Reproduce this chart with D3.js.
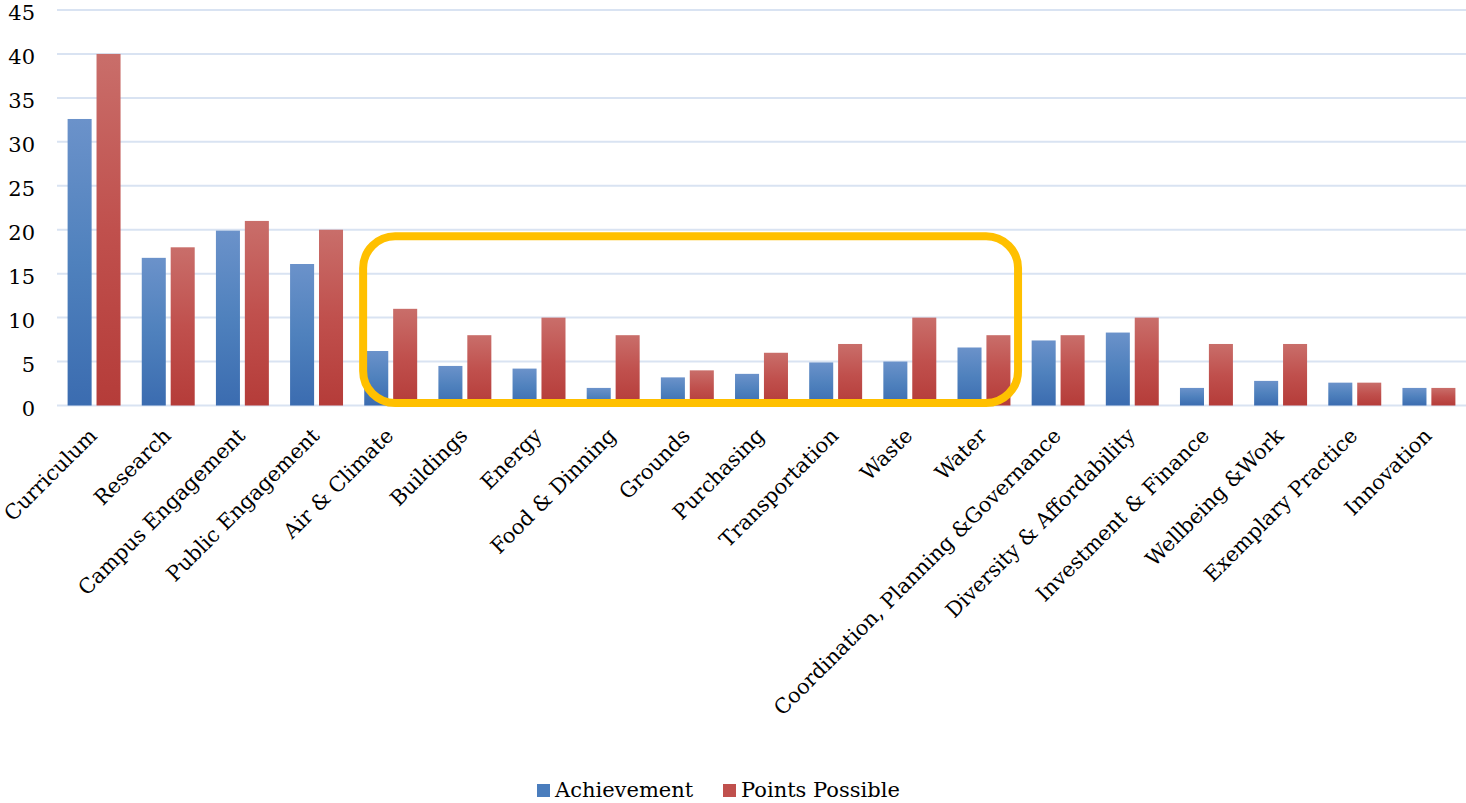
<!DOCTYPE html>
<html>
<head>
<meta charset="utf-8">
<script src="https://cdn.jsdelivr.net/npm/d3@7"></script>
<style>
  html, body { margin: 0; padding: 0; background: #fff; }
  svg { display: block; }
  text { font-family: "DejaVu Serif", "Liberation Serif", serif; fill: #000; }
</style>
</head>
<body>
<svg id="chart" width="1466" height="803"></svg>
<script>
const categories = [
  "Curriculum", "Research", "Campus Engagement", "Public Engagement", "Air & Climate",
  "Buildings", "Energy", "Food & Dinning", "Grounds", "Purchasing", "Transportation",
  "Waste", "Water", "Coordination, Planning &Governance", "Diversity & Affordability",
  "Investment & Finance", "Wellbeing &Work", "Exemplary Practice", "Innovation"
];
const achievement = [32.6, 16.8, 19.9, 16.1, 6.2, 4.5, 4.2, 2.0, 3.2, 3.6, 4.9, 5.0, 6.6, 7.4, 8.3, 2.0, 2.8, 2.6, 2.0];
const pointsPossible = [40, 18, 21, 20, 11, 8, 10, 8, 4, 6, 7, 10, 8, 8, 10, 7, 7, 2.6, 2];
const seriesNames = ["Achievement", "Points Possible"];
const yTicks = [0, 5, 10, 15, 20, 25, 30, 35, 40, 45];
const highlight = { from: "Air & Climate", to: "Water", top: 19.25 };

const svg = d3.select("#chart");
const plot = { left: 57, right: 1466, top: 10, bottom: 405.5 };

const x = d3.scaleBand().domain(categories).range([plot.left, plot.right]).padding(0);
const y = d3.scaleLinear().domain([0, 45]).range([plot.bottom, plot.top]);

// gradients
const defs = svg.append("defs");
function grad(id, stops) {
  const g = defs.append("linearGradient").attr("id", id)
    .attr("x1", 0).attr("y1", 0).attr("x2", 0).attr("y2", 1);
  stops.forEach(s => g.append("stop").attr("offset", s[0]).attr("stop-color", s[1]));
}
grad("gBlue", [[0, "#6b92ca"], [0.5, "#4f81bd"], [1, "#3b6cb0"]]);
grad("gRed", [[0, "#c96e6a"], [0.5, "#c0504d"], [1, "#b53c39"]]);
const fills = ["url(#gBlue)", "url(#gRed)"];
const legendFills = ["#4a7dbd", "#c0504d"];

// gridlines
svg.append("g").selectAll("line").data(yTicks).join("line")
  .attr("x1", plot.left).attr("x2", plot.right)
  .attr("y1", d => y(d)).attr("y2", d => y(d))
  .attr("stroke", "#d9e3f2").attr("stroke-width", 2);

// y tick labels
svg.append("g").selectAll("text").data(yTicks).join("text")
  .attr("x", 35).attr("y", d => y(d) + 3)
  .attr("text-anchor", "end").attr("dominant-baseline", "central")
  .attr("font-size", 21)
  .text(d => d);

// bars
const bw = x.bandwidth();
const barW = bw * 0.324, gap = bw * 0.066;
const groupOff = (bw - (2 * barW + gap)) / 2;
const series = [achievement, pointsPossible];
series.forEach((vals, si) => {
  svg.append("g").selectAll("rect").data(categories).join("rect")
    .attr("x", (c) => x(c) + groupOff + si * (barW + gap))
    .attr("width", barW)
    .attr("y", (c, i) => y(vals[i]))
    .attr("height", (c, i) => y(0) - y(vals[i]))
    .attr("fill", fills[si]);
});

// x labels
svg.append("g").selectAll("text").data(categories).join("text")
  .attr("transform", c => `translate(${x(c) + bw / 2 + 4},${437}) rotate(-45)`)
  .attr("text-anchor", "end")
  .attr("font-size", 20.8)
  .text(c => c);

// highlight box
const hx0 = x(highlight.from) + 9.5;
const hx1 = x(highlight.to) + bw - 3;
const hy0 = y(highlight.top);
const hy1 = y(0) - 2.5;
svg.append("rect")
  .attr("x", hx0).attr("y", hy0)
  .attr("width", hx1 - hx0).attr("height", hy1 - hy0)
  .attr("rx", 32).attr("ry", 32)
  .attr("fill", "none").attr("stroke", "#ffc000").attr("stroke-width", 8);

// legend
const legend = svg.append("g");
const legX = [537, 723];
seriesNames.forEach((n, i) => {
  legend.append("rect").attr("x", legX[i]).attr("y", 784).attr("width", 13).attr("height", 13)
    .attr("fill", legendFills[i]);
  legend.append("text").attr("x", legX[i] + 18).attr("y", 797)
    .attr("font-size", 21).text(n);
});
</script>
</body>
</html>
